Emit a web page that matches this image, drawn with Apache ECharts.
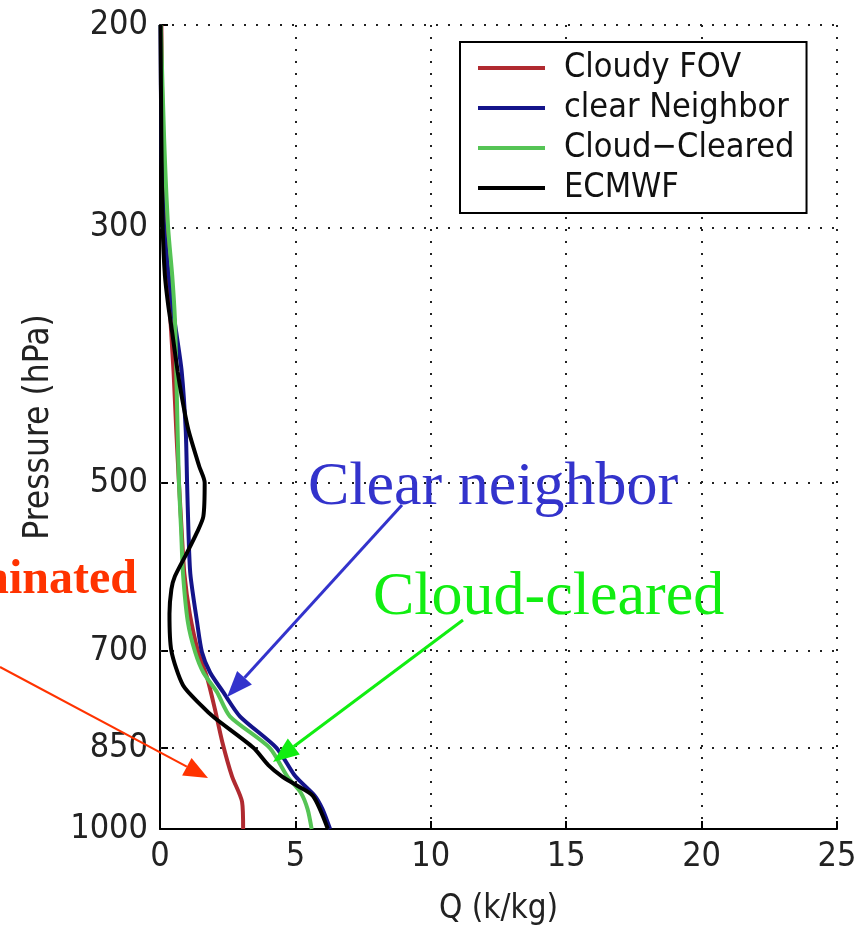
<!DOCTYPE html>
<html><head><meta charset="utf-8">
<script src="https://cdn.jsdelivr.net/npm/echarts@6/dist/echarts.min.js"></script>
<style>html,body{margin:0;padding:0;background:#fff}#c{width:868px;height:931px}</style>
</head><body><div id="c"></div>
<script>
// ---- data ----
const pressureTicks = [200, 300, 500, 700, 850, 1000];
const gridPressures = [200, 300, 500, 700, 850];

const cloudyP = [200,250,300,350,400,450,500,550,600,650,700,740,787,840,900,947,1000];
const cloudyQ = [0.05,0.1,0.2,0.35,0.5,0.6,0.7,0.8,0.9,1.1,1.4,1.75,2.03,2.3,2.66,3.03,3.07];

const clearP = [200,250,300,350,370,400,450,500,550,600,661,702,731,760,798,850,900,936,961,1000];
const clearQ = [0.02,0.05,0.15,0.45,0.6,0.8,0.95,1.0,1.05,1.12,1.37,1.55,1.85,2.33,2.95,4.3,5.0,5.72,6.0,6.28];

const clearedP = [200,250,300,330,360,400,450,500,550,600,661,702,731,760,798,850,900,930,961,1000];
const clearedQ = [0.03,0.15,0.3,0.45,0.55,0.6,0.65,0.7,0.78,0.85,1.03,1.3,1.6,2.1,2.58,4.05,4.7,5.2,5.45,5.6];

const ecmwfP = [200,250,300,330,350,370,400,423,450,484,500,535,552,575,603,619,650,700,750,782,800,850,880,900,915,936,1000];
const ecmwfQ = [0.02,0.05,0.1,0.18,0.3,0.45,0.65,0.82,1.05,1.45,1.65,1.6,1.37,1.0,0.55,0.42,0.35,0.42,0.85,1.55,2.0,3.45,4.0,4.5,5.0,5.65,6.2];

const seriesNames = ['Cloudy FOV', 'clear Neighbor', 'Cloud\u2212Cleared', 'ECMWF'];
const seriesColors = ['#b02a30', '#14148a', '#55c455', '#000000'];

function pairs(q, p) { return q.map((v, i) => [v, p[i]]); }
const seriesData = [pairs(cloudyQ, cloudyP), pairs(clearQ, clearP), pairs(clearedQ, clearedP), pairs(ecmwfQ, ecmwfP)];

const labelFont = '"DejaVu Sans", sans-serif';
const narrow = 'condensed';  // used as weight slot -> font-stretch in canvas font shorthand

const chart = echarts.init(document.getElementById('c'), null, {renderer: 'canvas'});

const dotted = {color: '#222', width: 2, type: [2, 10]};

const series = seriesNames.map((n, i) => ({
  name: n, type: 'line', data: seriesData[i], symbol: 'none', showSymbol: false,
  smooth: 0.25,
  lineStyle: {color: seriesColors[i], width: 4}, itemStyle: {color: seriesColors[i]},
  z: 3 + i, clip: true,
  markLine: i === 0 ? {
    silent: true, symbol: ['none', 'none'], label: {show: false},
    lineStyle: dotted, animation: false, z: 1,
    data: gridPressures.map(p => ({yAxis: p}))
  } : undefined
}));

function arrow(x1, y1, x2, y2, color, w, hl, hw) {
  const dx = x2 - x1, dy = y2 - y1, L = Math.sqrt(dx*dx + dy*dy);
  const ux = dx / L, uy = dy / L, nx = -uy, ny = ux;
  const bx = x2 - ux * hl, by = y2 - uy * hl;
  return [
    {type: 'line', shape: {x1, y1, x2: bx, y2: by}, style: {stroke: color, lineWidth: w}, z: 100},
    {type: 'polygon', shape: {points: [[x2, y2], [bx + nx*hw, by + ny*hw], [bx - nx*hw, by - ny*hw]]}, style: {fill: color}, z: 100}
  ];
}

const serif = '"Liberation Serif", "Times New Roman", serif';

const option = {
  animation: false,
  backgroundColor: '#fff',
  grid: {left: 160, right: 31, top: 25, bottom: 101},
  legend: {
    show: true, data: seriesNames, orient: 'vertical', left: 460, top: 42,
    backgroundColor: '#fff', borderColor: '#000', borderWidth: 2,
    padding: [6, 12, 5, 18], itemWidth: 67, itemHeight: 4, itemGap: 0, icon: 'rect',
    textStyle: {fontFamily: labelFont, fontWeight: narrow, fontSize: 34, color: '#111', lineHeight: 40, padding: [0, 0, 0, 14]},
    selectedMode: false, z: 50
  },
  xAxis: {
    type: 'value', min: 0, max: 25, interval: 5,
    name: 'Q (k/kg)', nameLocation: 'middle', nameGap: 64,
    nameTextStyle: {fontFamily: labelFont, fontWeight: narrow, fontSize: 33, color: '#222'},
    axisLine: {show: true, onZero: false, lineStyle: {color: '#000', width: 2}},
    axisTick: {show: true, inside: true, length: 8, lineStyle: {color: '#000', width: 2}},
    axisLabel: {fontFamily: labelFont, fontWeight: narrow, fontSize: 34, color: '#222', margin: 11},
    splitLine: {show: true, lineStyle: dotted}
  },
  yAxis: {
    type: 'log', logBase: 10, min: 200, max: 1000, inverse: true,
    name: 'Pressure (hPa)', nameLocation: 'middle', nameGap: 104, nameRotate: 90,
    nameTextStyle: {fontFamily: labelFont, fontWeight: narrow, fontSize: 35, color: '#222'},
    axisLine: {show: true, onZero: false, lineStyle: {color: '#000', width: 2}},
    axisTick: {show: true, inside: true, length: 8, customValues: pressureTicks, lineStyle: {color: '#000', width: 2}},
    axisLabel: {fontFamily: labelFont, fontWeight: narrow, fontSize: 34, color: '#222', margin: 12, customValues: pressureTicks,
      formatter: v => String(Math.round(v))},
    splitLine: {show: false}, minorTick: {show: false}, minorSplitLine: {show: false}
  },
  series,
  graphic: [
    {type: 'text', z: 100, style: {text: 'Clear neighbor', x: 308, y: 488, font: '62px ' + serif, fill: '#3333cc', textVerticalAlign: 'middle'}},
    {type: 'text', z: 100, style: {text: 'Cloud-cleared', x: 373, y: 598, font: '62px ' + serif, fill: '#11ee11', textVerticalAlign: 'middle'}},
    {type: 'text', z: 100, style: {text: 'Contaminated', x: 137, y: 581, font: 'bold 48px ' + serif, fill: '#ff3300', textAlign: 'right', textVerticalAlign: 'middle'}},
    ...arrow(402, 505, 227, 697, '#3333cc', 3, 26, 10),
    ...arrow(463, 620, 273, 762, '#11ee11', 3, 26, 10),
    ...arrow(0, 667, 208, 778, '#ff3300', 2, 24, 10)
  ]
};
chart.setOption(option);
</script>
</body></html>
